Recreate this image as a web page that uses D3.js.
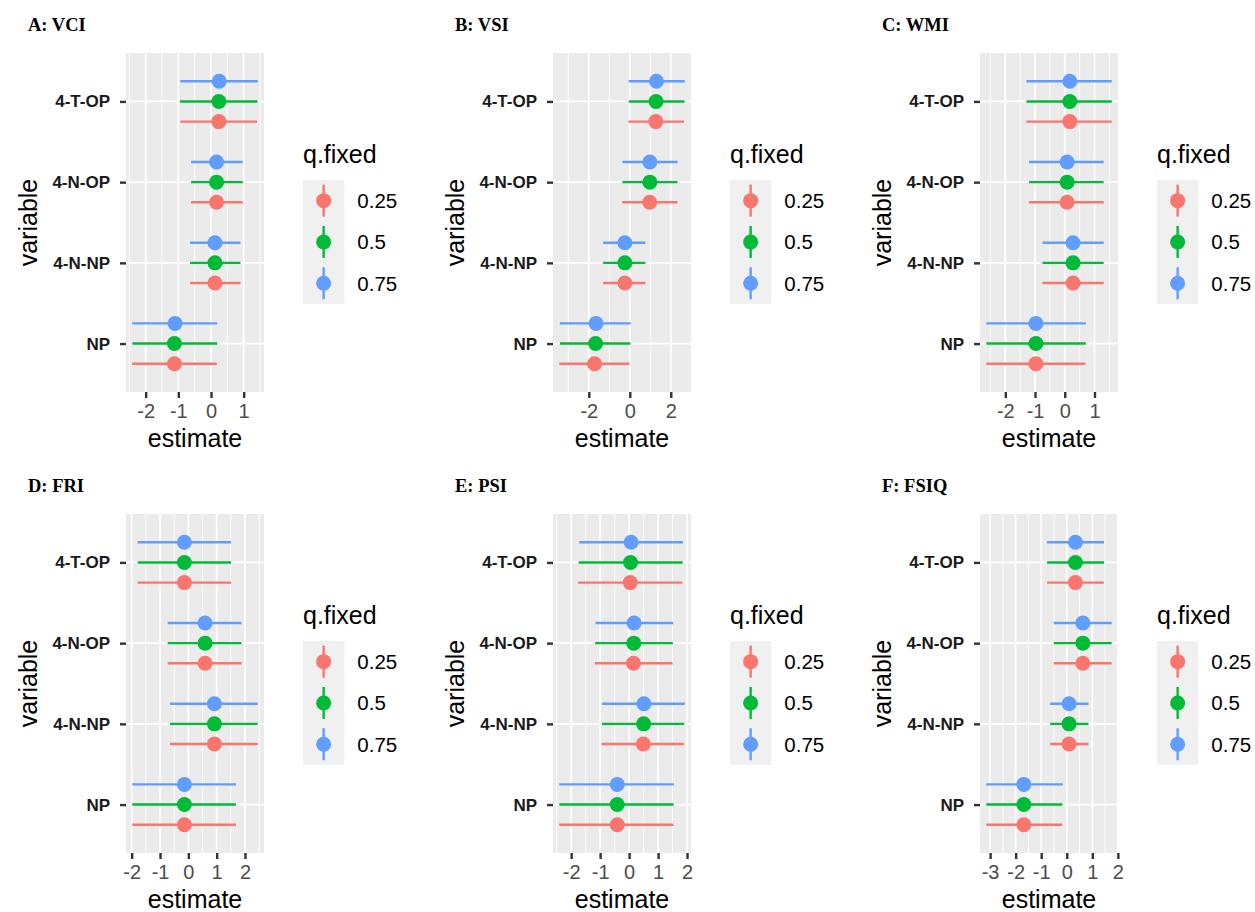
<!DOCTYPE html>
<html>
<head>
<meta charset="utf-8">
<script src="https://cdn.jsdelivr.net/npm/d3@7"></script>
<style>
  body { margin: 0; background: #fff; }
  svg { display: block; }
</style>
</head>
<body>
<svg id="chart" width="1255" height="912"></svg>
<script>
// ---- data -------------------------------------------------------------
const variables = ["4-T-OP", "4-N-OP", "4-N-NP", "NP"];
const quantiles = ["0.25", "0.5", "0.75"];
const qColors = ["#F8766D", "#00BA38", "#619CFF"];
const panelTitles = ["A: VCI", "B: VSI", "C: WMI", "D: FRI", "E: PSI", "F: FSIQ"];
const xTickValues = [
  [-2, -1, 0, 1],
  [-2, 0, 2],
  [-2, -1, 0, 1],
  [-2, -1, 0, 1, 2],
  [-2, -1, 0, 1, 2],
  [-3, -2, -1, 0, 1, 2]
];

// rows follow `variables`, columns follow `quantiles`
const vciEst   = [[0.24, 0.24, 0.25], [0.17, 0.17, 0.17], [0.12, 0.12, 0.12], [-1.12, -1.12, -1.1]];
const vciLow   = [[-0.94, -0.95, -0.94], [-0.61, -0.61, -0.61], [-0.64, -0.64, -0.64], [-2.41, -2.41, -2.41]];
const vciHigh  = [[1.41, 1.42, 1.43], [0.97, 0.97, 0.97], [0.9, 0.9, 0.9], [0.18, 0.19, 0.19]];

const vsiEst   = [[1.27, 1.28, 1.3], [0.97, 0.98, 0.98], [-0.24, -0.24, -0.24], [-1.72, -1.67, -1.65]];
const vsiLow   = [[-0.07, -0.05, -0.05], [-0.37, -0.36, -0.36], [-1.3, -1.3, -1.3], [-3.44, -3.41, -3.41]];
const vsiHigh  = [[2.65, 2.67, 2.68], [2.33, 2.33, 2.33], [0.76, 0.76, 0.76], [-0.02, 0.03, 0.05]];

const wmiEst   = [[0.17, 0.17, 0.17], [0.08, 0.08, 0.08], [0.28, 0.28, 0.28], [-0.97, -0.97, -0.97]];
const wmiLow   = [[-1.29, -1.29, -1.29], [-1.2, -1.2, -1.2], [-0.75, -0.75, -0.75], [-2.64, -2.64, -2.64]];
const wmiHigh  = [[1.58, 1.58, 1.58], [1.31, 1.31, 1.31], [1.31, 1.31, 1.31], [0.69, 0.71, 0.71]];

const friEst   = [[-0.14, -0.14, -0.14], [0.59, 0.59, 0.59], [0.92, 0.92, 0.92], [-0.14, -0.14, -0.14]];
const friLow   = [[-1.79, -1.79, -1.79], [-0.73, -0.73, -0.73], [-0.65, -0.65, -0.65], [-1.98, -1.98, -1.98]];
const friHigh  = [[1.51, 1.51, 1.51], [1.88, 1.88, 1.88], [2.45, 2.45, 2.45], [1.68, 1.68, 1.68]];

const psiEst   = [[0.04, 0.05, 0.07], [0.15, 0.16, 0.17], [0.49, 0.5, 0.51], [-0.41, -0.41, -0.41]];
const psiLow   = [[-1.76, -1.74, -1.72], [-1.18, -1.17, -1.16], [-0.95, -0.94, -0.93], [-2.41, -2.41, -2.41]];
const psiHigh  = [[1.84, 1.85, 1.86], [1.5, 1.51, 1.52], [1.9, 1.91, 1.92], [1.53, 1.54, 1.55]];

const fsiqEst  = [[0.34, 0.34, 0.34], [0.63, 0.63, 0.63], [0.09, 0.09, 0.09], [-1.68, -1.68, -1.68]];
const fsiqLow  = [[-0.77, -0.77, -0.77], [-0.51, -0.51, -0.51], [-0.65, -0.65, -0.65], [-3.15, -3.15, -3.15]];
const fsiqHigh = [[1.45, 1.46, 1.46], [1.76, 1.76, 1.76], [0.85, 0.85, 0.85], [-0.18, -0.17, -0.16]];

const panelData = [
  [vciEst, vciLow, vciHigh],
  [vsiEst, vsiLow, vsiHigh],
  [wmiEst, wmiLow, wmiHigh],
  [friEst, friLow, friHigh],
  [psiEst, psiLow, psiHigh],
  [fsiqEst, fsiqLow, fsiqHigh]
];

// ---- layout -----------------------------------------------------------
const colLeft = [126, 553, 980];
const rowTop = [53, 514];
const pw = 138;
const ph = 339;
const sans = "'Liberation Sans', Arial, sans-serif";

const svg = d3.select("#chart");
const color = d3.scaleOrdinal().domain(quantiles).range(qColors);

panelData.forEach((arrs, i) => {
  const [est, low, high] = arrs;
  const left = colLeft[i % 3];
  const top = rowTop[Math.floor(i / 3)];

  const rows = [];
  variables.forEach((v, vi) => {
    quantiles.forEach((q, qi) => {
      rows.push({ variable: v, q: q, est: est[vi][qi], lo: low[vi][qi], hi: high[vi][qi] });
    });
  });

  // ggplot style 5% expansion of data range
  const minV = d3.min(rows, d => d.lo);
  const maxV = d3.max(rows, d => d.hi);
  const pad = (maxV - minV) * 0.05;
  const x = d3.scaleLinear().domain([minV - pad, maxV + pad]).range([0, pw]);
  const y = d3.scalePoint().domain(variables).range([0, ph]).padding(0.6);
  const dodge = d3.scalePoint().domain(quantiles).range([y.step() * 0.25, -y.step() * 0.25]);

  const g = svg.append("g").attr("transform", `translate(${left},${top})`);

  // panel background + grid
  g.append("rect").attr("width", pw).attr("height", ph).attr("fill", "#EBEBEB");

  const majors = xTickValues[i];
  const stepT = majors[1] - majors[0];
  const minors = [];
  for (let t = majors[0] - stepT / 2; t <= x.domain()[1]; t += stepT) {
    if (t >= x.domain()[0]) minors.push(t);
  }
  g.selectAll(".minor").data(minors).join("line")
    .attr("x1", d => x(d)).attr("x2", d => x(d))
    .attr("y1", 0).attr("y2", ph)
    .attr("stroke", "#fff").attr("stroke-width", 0.9);
  g.selectAll(".major").data(majors).join("line")
    .attr("x1", d => x(d)).attr("x2", d => x(d))
    .attr("y1", 0).attr("y2", ph)
    .attr("stroke", "#fff").attr("stroke-width", 1.7);
  g.selectAll(".hgrid").data(variables).join("line")
    .attr("x1", 0).attr("x2", pw)
    .attr("y1", d => y(d)).attr("y2", d => y(d))
    .attr("stroke", "#fff").attr("stroke-width", 1.7);

  // point ranges
  g.selectAll(".range").data(rows).join("line")
    .attr("x1", d => x(d.lo)).attr("x2", d => x(d.hi))
    .attr("y1", d => y(d.variable) + dodge(d.q))
    .attr("y2", d => y(d.variable) + dodge(d.q))
    .attr("stroke", d => color(d.q)).attr("stroke-width", 2.4);
  g.selectAll(".pt").data(rows).join("circle")
    .attr("cx", d => x(d.est))
    .attr("cy", d => y(d.variable) + dodge(d.q))
    .attr("r", 7.5)
    .attr("fill", d => color(d.q));

  // x axis
  const xAxis = g.append("g").attr("transform", `translate(0,${ph})`)
    .call(d3.axisBottom(x).tickValues(majors).tickSize(6).tickPadding(6).tickFormat(d3.format("d")));
  xAxis.select(".domain").remove();
  xAxis.selectAll("line").attr("stroke", "#333").attr("stroke-width", 2.4);
  xAxis.selectAll("text")
    .attr("font-family", sans).attr("font-size", 20).attr("fill", "#4D4D4D")
    .text(d => (d < 0 ? "-" + Math.abs(d) : d));

  // y axis
  const yAxis = g.append("g")
    .call(d3.axisLeft(y).tickSize(6).tickPadding(10));
  yAxis.select(".domain").remove();
  yAxis.selectAll("line").attr("stroke", "#333").attr("stroke-width", 2.4);
  yAxis.selectAll("text")
    .attr("font-family", sans).attr("font-size", 17).attr("font-weight", "bold").attr("fill", "#1a1a1a");

  // axis titles
  g.append("text")
    .attr("x", pw / 2).attr("y", ph + 55)
    .attr("text-anchor", "middle")
    .attr("font-family", sans).attr("font-size", 25).attr("fill", "#000")
    .text("estimate");
  g.append("text")
    .attr("transform", `translate(-89,${ph / 2}) rotate(-90)`)
    .attr("text-anchor", "middle")
    .attr("font-family", sans).attr("font-size", 25).attr("fill", "#000")
    .text("variable");

  // panel title
  g.append("text")
    .attr("x", -98).attr("y", -22)
    .attr("font-family", "'Liberation Serif', 'Times New Roman', serif")
    .attr("font-weight", "bold").attr("font-size", 18.5).attr("fill", "#000")
    .text(panelTitles[i]);

  // legend
  const keySize = 41.3;
  const lg = g.append("g").attr("transform", `translate(${pw + 39},127)`);
  lg.append("text")
    .attr("x", 0).attr("y", -17)
    .attr("font-family", sans).attr("font-size", 25).attr("fill", "#000")
    .text("q.fixed");
  lg.append("rect").attr("width", keySize).attr("height", keySize * quantiles.length).attr("fill", "#F0F0F0");
  const keys = lg.selectAll(".key").data(quantiles).join("g")
    .attr("transform", (d, k) => `translate(${keySize / 2},${keySize * k + keySize / 2})`);
  keys.append("line")
    .attr("y1", -16).attr("y2", 16)
    .attr("stroke", d => color(d)).attr("stroke-width", 2.4);
  keys.append("circle").attr("r", 7.5).attr("fill", d => color(d));
  keys.append("text")
    .attr("x", keySize / 2 + 13).attr("y", 7.5)
    .attr("font-family", sans).attr("font-size", 20.5).attr("fill", "#000")
    .text(d => d);
});
</script>
</body>
</html>
